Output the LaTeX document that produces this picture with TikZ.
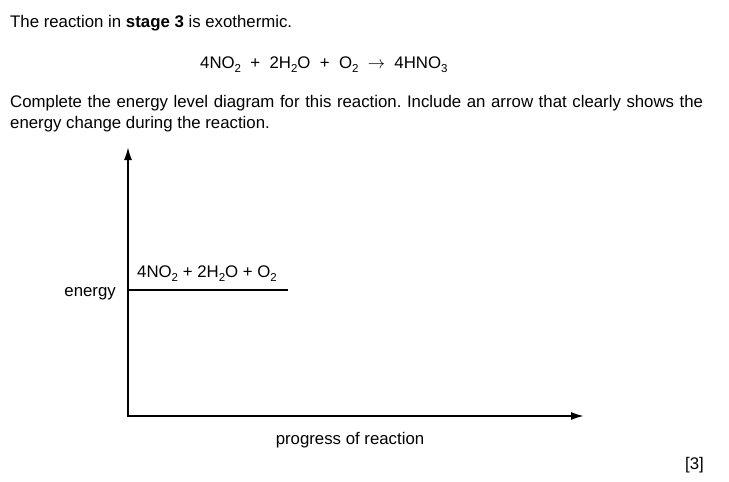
\documentclass[tikz,border=0pt]{standalone}
\usepackage{fontspec}
\setmainfont{Liberation Sans}
\usetikzlibrary{arrows.meta}
\frenchspacing
\newcommand\chemsub[1]{\raisebox{-0.28em}{\fontsize{11.5}{12}\selectfont #1}}
\begin{document}
\begin{tikzpicture}[x=1pt,y=-1pt,
  txt/.style={inner sep=0pt,anchor=base west,font=\fontsize{16.8}{20}\selectfont},
  axis/.style={line width=1.8pt,-{Latex[length=13pt,width=8pt]}},
  level/.style={line width=1.8pt}]
\useasboundingbox (0,0) rectangle (729,482);
\node[txt] (intro) at (10,27) {The reaction in \textbf{stage 3} is exothermic.};
\node[txt] (eq) at (200,68) {4NO\chemsub{2}\ \ +\ \ 2H\chemsub{2}O\ \ +\ \ O\chemsub{2}\ \ $\rightarrow$\ \ 4HNO\chemsub{3}};
\node[txt] (p1) at (10,107) {\makebox[693pt][s]{Complete the energy level diagram for this reaction. Include an arrow that clearly shows the}};
\node[txt] (p2) at (10,128) {energy change during the reaction.};
\coordinate (o) at (128,416);
\coordinate (ytop) at (128,147);
\coordinate (xend) at (584,416);
\coordinate (l0) at (128,290);
\coordinate (l1) at (288,290);
\draw[axis] (o) -- (ytop);
\draw[axis] ([xshift=-0.9pt]o) -- (xend);
\draw[level] (l0) -- (l1);
\node[txt] (react) at (137,277) {4NO\chemsub{2} + 2H\chemsub{2}O + O\chemsub{2}};
\node[txt,anchor=base east] (energy) at (116,296) {energy};
\node[txt,anchor=base] (prog) at (350,444) {progress of reaction};
\node[txt,anchor=base east] (marks) at (704,469) {[3]};
\end{tikzpicture}
\end{document}
